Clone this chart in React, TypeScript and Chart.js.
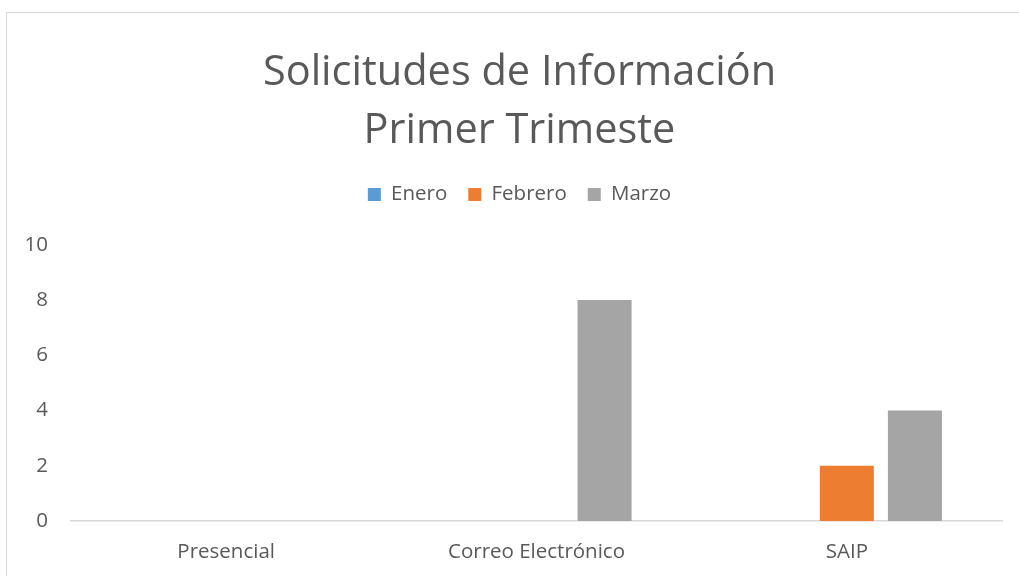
import React, { useEffect, useRef } from "react";
import { Chart, registerables } from "chart.js";

Chart.register(...registerables);

const categories = ["Presencial", "Correo Electrónico", "SAIP"];
const seriesNames = ["Enero", "Febrero", "Marzo"];
const eneroValues = [0, 0, 0];
const febreroValues = [0, 0, 2];
const marzoValues = [0, 8, 4];
const seriesColors = ["#5B9BD5", "#ED7D31", "#A5A5A5"];
const titleLines = ["Solicitudes de Información", "Primer Trimeste"];
const yMin = 0;
const yMax = 10;
const yStep = 2;

const FONT = "'Open Sans', 'Noto Sans', sans-serif";
const TEXT = "#595959";

export default function App() {
  const ref = useRef<HTMLCanvasElement | null>(null);

  useEffect(() => {
    if (!ref.current) return;
    const chart = new Chart(ref.current, {
      type: "bar",
      data: {
        labels: categories,
        datasets: [eneroValues, febreroValues, marzoValues].map((vals, i) => ({
          label: seriesNames[i],
          data: vals,
          backgroundColor: seriesColors[i],
          borderWidth: 0,
          categoryPercentage: 0.658,
          barPercentage: 0.794,
          yAxisID: "y",
        })),
      },
      options: {
        responsive: false,
        animation: false,
        devicePixelRatio: 1,
        layout: { padding: { left: 20, right: 0, top: 0, bottom: 0 } },
        plugins: {
          tooltip: { enabled: false },
          title: {
            display: true,
            text: titleLines,
            color: TEXT,
            font: { family: FONT, size: 41.5, weight: "normal", lineHeight: 1.4 },
            padding: { top: 44, bottom: 3 },
          },
          legend: {
            display: true,
            position: "top",
            labels: {
              color: TEXT,
              font: { family: FONT, size: 20.5 },
              boxWidth: 13,
              boxHeight: 13,
              padding: 21,
            },
          },
          subtitle: {
            display: true,
            text: " ",
            weight: 500,
            font: { size: 1, lineHeight: 1 },
            padding: { top: 0, bottom: 29 },
          },
        },
        scales: {
          x: {
            grid: { display: false, drawTicks: false },
            border: { display: true, color: "#D9D9D9", width: 1.5 },
            ticks: { color: TEXT, font: { family: FONT, size: 20.5 }, padding: 19 },
            afterFit: (s: any) => {
              s.height = 55;
            },
          },
          y: {
            position: "left",
            min: yMin,
            max: yMax,
            grid: { display: false, drawTicks: false },
            border: { display: false },
            ticks: { stepSize: yStep, color: TEXT, font: { family: FONT, size: 20.5 }, padding: 23 },
            afterFit: (s: any) => {
              s.width = 51;
            },
          },
          yRight: {
            position: "right",
            min: yMin,
            max: yMax,
            grid: { display: false, drawTicks: false },
            border: { display: false },
            ticks: { display: false },
            afterFit: (s: any) => {
              s.width = 17;
            },
          },
        },
      },
    });
    return () => chart.destroy();
  }, []);

  return (
    <div
      style={{
        position: "fixed",
        left: 0,
        top: 0,
        width: 1019,
        height: 576,
        overflow: "hidden",
        background: "#ffffff",
      }}
    >
      <canvas ref={ref} width={1019} height={576} style={{ position: "absolute", left: 0, top: 0 }} />
      <div
        style={{
          position: "absolute",
          left: 6,
          top: 12,
          width: 2000,
          height: 2000,
          borderTop: "1px solid #D9D9D9",
          borderLeft: "1px solid #D9D9D9",
          pointerEvents: "none",
        }}
      />
    </div>
  );
}
